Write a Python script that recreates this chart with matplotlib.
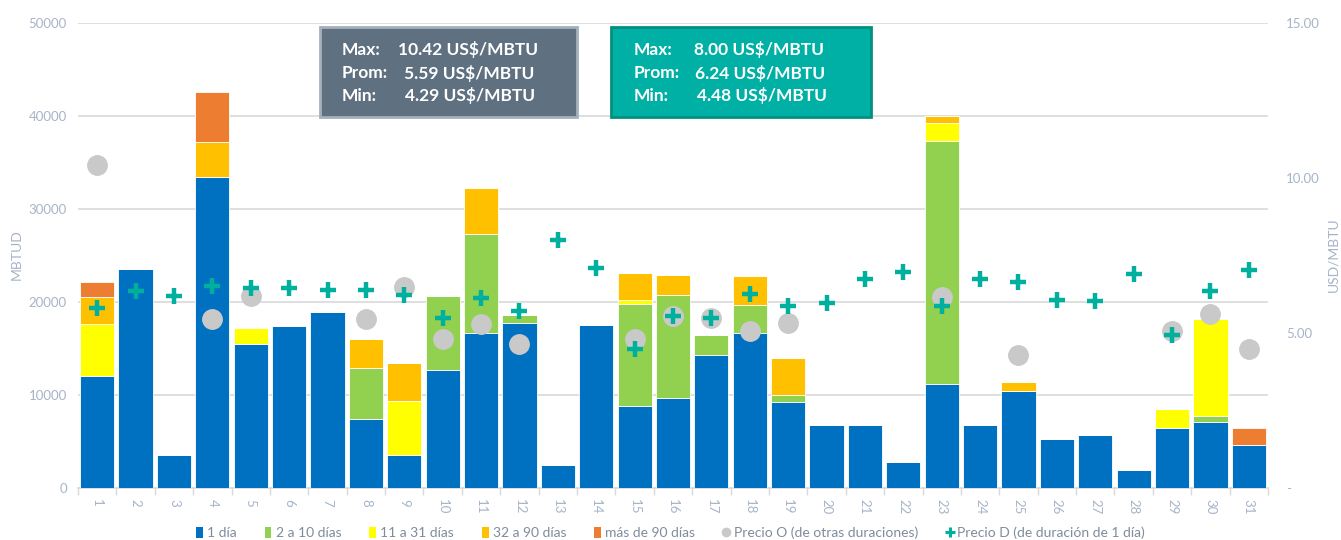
import numpy as np
import matplotlib
matplotlib.use("Agg")
import matplotlib.pyplot as plt
from matplotlib.patches import Patch, Rectangle
from matplotlib.lines import Line2D

plt.rcParams['font.family'] = ['Lato', 'DejaVu Sans']

days = list(range(1, 32))
# segment sizes (MBTUD)
v_1dia = [12000, 23600, 3500, 33400, 15500, 17400, 18900, 7400, 3500, 12700,
          16700, 17700, 2500, 17500, 8800, 9700, 14300, 16700, 9200, 6800,
          6800, 2750, 11200, 6800, 10400, 5300, 5700, 1950, 6500, 7100, 4600]
v_2a10 = [0, 0, 0, 0, 0, 0, 0, 5500, 0, 7900,
          10600, 900, 0, 0, 11000, 11100, 2200, 3000, 800, 0,
          0, 0, 26100, 0, 0, 0, 0, 0, 0, 600, 0]
v_11a31 = [5600, 0, 0, 0, 1700, 0, 0, 0, 5900, 0,
           0, 0, 0, 0, 450, 0, 0, 0, 0, 0,
           0, 0, 1900, 0, 0, 0, 0, 0, 2000, 10500, 0]
v_32a90 = [2900, 0, 0, 3800, 0, 0, 0, 3100, 4000, 0,
           5000, 0, 0, 0, 2900, 2100, 0, 3100, 4000, 0,
           0, 0, 800, 0, 950, 0, 0, 0, 0, 0, 0]
v_mas90 = [1600, 0, 0, 5400, 0, 0, 0, 0, 0, 0,
           0, 0, 0, 0, 0, 0, 0, 0, 0, 0,
           0, 0, 0, 0, 0, 0, 0, 0, 0, 0, 1850]

nan = np.nan
precio_o = [10.42, nan, nan, 5.45, 6.18, nan, nan, 5.44, 6.50, 4.80,
            5.30, 4.66, nan, nan, 4.82, 5.54, 5.48, 5.07, 5.32, nan,
            nan, nan, 6.17, nan, 4.29, nan, nan, nan, 5.06, 5.60, 4.50]
precio_d = [5.82, 6.37, 6.19, 6.52, 6.46, 6.44, 6.39, 6.39, 6.23, 5.50,
            6.12, 5.70, 8.00, 7.10, 4.48, 5.54, 5.47, 6.26, 5.88, 5.98,
            6.74, 6.97, 5.88, 6.73, 6.64, 6.06, 6.04, 6.89, 4.93, 6.36, 7.03]

series_names = ['1 día', '2 a 10 días', '11 a 31 días', '32 a 90 días', 'más de 90 días']
series_vals = [v_1dia, v_2a10, v_11a31, v_32a90, v_mas90]
series_cols = ['#0070c0', '#92d050', '#ffff00', '#ffc000', '#ed7d31']

box_o = ['10.42', '5.59', '4.29']
box_d = ['8.00', '6.24', '4.48']

txtc = '#a6b4c8'
gridc = '#d9d9d9'
teal = '#00b09f'

fig = plt.figure(figsize=(13.41, 5.40), dpi=100)
ax = fig.add_axes([78/1341, 1-488/540, (1268-78)/1341, (488-23)/540])
x = np.arange(len(days))
bottom = np.zeros(len(days))
for name, vals, col in zip(series_names, series_vals, series_cols):
    vals = np.array(vals, dtype=float)
    ax.bar(x, vals, bottom=bottom, width=0.89, color=col, edgecolor='white',
           linewidth=0.6, zorder=3)
    bottom += vals

ax.set_ylim(0, 50000)
ax.set_xlim(-0.5, len(days)-0.5)
ax.set_yticks(np.arange(0, 50001, 10000))
ax.set_yticklabels([str(v) for v in range(0, 50001, 10000)])
ax.yaxis.grid(True, color=gridc, linewidth=1.2, zorder=0)
ax.set_axisbelow(True)
ax.set_xticks(x)
ax.set_xticklabels([str(d) for d in days], rotation=-90)
ax.set_xticks(np.arange(-0.5, len(days)), minor=True)
ax.tick_params(axis='x', which='major', length=0, pad=8, labelsize=9.5, labelcolor=txtc)
ax.tick_params(axis='x', which='minor', length=5, color=gridc, width=1)
ax.tick_params(axis='y', length=0, labelsize=9.5, labelcolor=txtc, pad=8)
for s in ['top', 'right', 'left']:
    ax.spines[s].set_visible(False)
ax.spines['bottom'].set_color(gridc)
ax.spines['bottom'].set_linewidth(1.2)

ax2 = ax.twinx()
ax2.set_ylim(0, 15)
ax2.set_yticks([0, 5, 10, 15])
ax2.set_yticklabels(['-', '5.00', '10.00', '15.00'])
ax2.tick_params(axis='y', length=0, labelsize=9.5, labelcolor=txtc, pad=13)
for s in ['top', 'right', 'left', 'bottom']:
    ax2.spines[s].set_visible(False)
ax2.plot(x, precio_o, linestyle='none', marker='o', markersize=14,
         color='#c9c9c9', zorder=4)
ax2.plot(x, precio_d, linestyle='none', marker='+', markersize=11,
         color=teal, markeredgewidth=3.2, zorder=5)

fig.text(17/1341, 1-255/540, 'MBTUD', rotation=90, color=txtc, fontsize=10,
         ha='center', va='center')
fig.text(1333/1341, 1-255/540, 'USD/MBTU', rotation=90, color=txtc, fontsize=10,
         ha='center', va='center')

# legend
handles = [Patch(facecolor=c, edgecolor='none') for c in series_cols]
handles += [Line2D([], [], linestyle='none', marker='o', color='#c9c9c9', markersize=6),
            Line2D([], [], linestyle='none', marker='+', color=teal, markersize=7,
                   markeredgewidth=2.2)]
labels = series_names + ['Precio O (de otras duraciones)', 'Precio D (de duración de 1 día)']
fig.legend(handles, labels, loc='center', bbox_to_anchor=(0.5, 1-533/540), ncol=7,
           frameon=False, fontsize=10, labelcolor='#7f8c9c', handlelength=0.5,
           handleheight=0.8, handletextpad=0.3, columnspacing=2.0)

# summary boxes
def box(x0, x1, face, edge, vals, xlab, xval):
    fig.patches.append(Rectangle((x0/1341, 1-117/540), (x1-x0)/1341, 90/540,
                                 transform=fig.transFigure, facecolor=face,
                                 edgecolor=edge, linewidth=2, zorder=10))
    labs = ['Max:', 'Prom:', 'Min:']
    ys = [50, 73, 96]
    for lab, v, yy, xv in zip(labs, vals, ys, xval):
        fig.text(xlab/1341, 1-yy/540, lab, color='white', fontsize=12.5,
                 fontweight='bold', va='center', ha='left', zorder=11)
        fig.text(xv/1341, 1-yy/540, v + ' US$/MBTU', color='white', fontsize=12.5,
                 fontweight='bold', va='center', ha='left', zorder=11)

box(320, 577, '#5f7080', '#a5b0bc', box_o, 342, [398, 404, 405])
box(611, 871, '#00b0a5', '#00907f', box_d, 634, [694, 695, 697])

fig.savefig('out.png', dpi=100)
